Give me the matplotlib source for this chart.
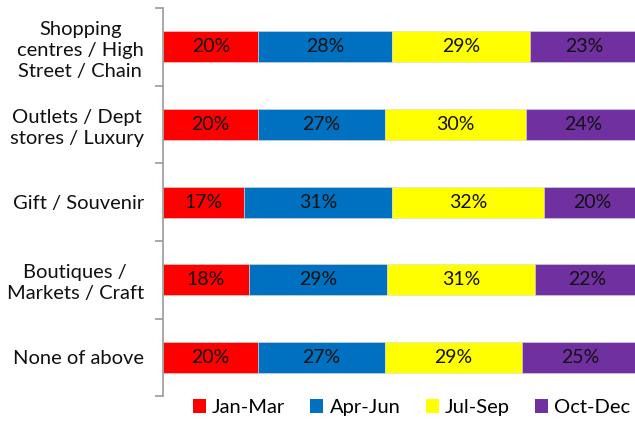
import matplotlib
matplotlib.use("Agg")
import matplotlib.pyplot as plt
import numpy as np
from matplotlib.patches import Patch

categories = ["Shopping\ncentres / High\nStreet / Chain",
              "Outlets / Dept\nstores / Luxury",
              "Gift / Souvenir",
              "Boutiques /\nMarkets / Craft",
              "None of above"]
series_names = ["Jan-Mar", "Apr-Jun", "Jul-Sep", "Oct-Dec"]
jan_mar = [20, 20, 17, 18, 20]
apr_jun = [28, 27, 31, 29, 27]
jul_sep = [29, 30, 32, 31, 29]
oct_dec = [23, 24, 20, 22, 25]
colors = ["#FF0000", "#0070C0", "#FFFF00", "#7030A0"]

plt.rcParams['font.family'] = ['Lato', 'DejaVu Sans']

fig = plt.figure(figsize=(6.35, 4.21), dpi=100)
ax = fig.add_axes([0.257, 0.059, 0.75, 0.922])

data = np.array([jan_mar, apr_jun, jul_sep, oct_dec], dtype=float)
totals = data.sum(axis=0)
y = np.arange(len(categories))
left = np.zeros(len(categories))
for i, name in enumerate(series_names):
    frac = data[i] / totals * 100
    bars = ax.barh(y, frac, left=left, height=0.4, color=colors[i],
                   edgecolor="#d9d9d9", linewidth=0.4, label=name)
    for j, b in enumerate(bars):
        ax.text(left[j] + frac[j] / 2, y[j], f"{int(data[i][j])}%",
                ha="center", va="center", fontsize=14, color="#111111")
    left += frac

ax.set_xlim(0, 100)
ax.set_ylim(len(categories) - 0.5, -0.5)
ax.set_yticks(y)
ax.set_yticklabels(categories, fontsize=14.5, color="#111111", linespacing=1.3)
for lbl in ax.get_yticklabels():
    lbl.set_multialignment("center")
ax.set_yticks(np.arange(-0.5, len(categories)), minor=True)
ax.tick_params(axis="y", which="major", length=0, pad=14)
ax.tick_params(axis="y", which="minor", length=6, color="#999999", width=1.2)
ax.set_xticks([])
for s in ["top", "right", "bottom"]:
    ax.spines[s].set_visible(False)
ax.spines["left"].set_color("#999999")
ax.spines["left"].set_linewidth(1.2)

handles = [Patch(facecolor=c, edgecolor="none") for c in colors]
fig.legend(handles, series_names, loc="center", bbox_to_anchor=(0.648, 0.031),
           ncol=4, frameon=False, fontsize=14.5, handlelength=0.65, handleheight=0.7,
           handletextpad=0.3, columnspacing=1.25, borderpad=0.0, borderaxespad=0.0)

fig.savefig("out.png", dpi=100)
